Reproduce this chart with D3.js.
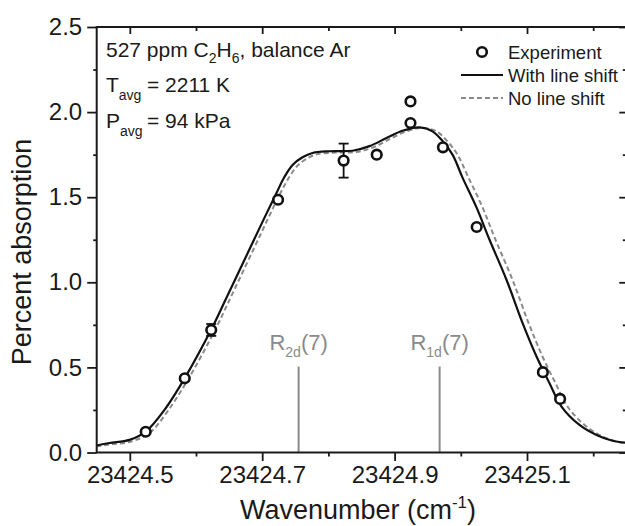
<!DOCTYPE html>
<html>
<head>
<meta charset="utf-8">
<script src="https://cdn.jsdelivr.net/npm/d3@7"></script>
<style>
  body { margin: 0; background: #ffffff; }
  svg { display: block; }
  text { font-family: "Liberation Sans", Arial, Helvetica, sans-serif; fill: #1a1a1a; }
</style>
</head>
<body>
<svg id="chart" width="625" height="526"></svg>
<script>
// Measured absorption (percent) versus wavenumber (cm^-1)
const expWavenumber = [23424.524, 23424.583, 23424.623, 23424.724, 23424.823, 23424.873,
                       23424.924, 23424.924, 23424.973, 23425.024, 23425.124, 23425.150];
const expAbsorption = [0.122, 0.436, 0.720, 1.485, 1.715, 1.750,
                       2.063, 1.936, 1.793, 1.325, 0.472, 0.315];
const expError      = [0, 0, 0.035, 0, 0.100, 0,
                       0, 0, 0, 0, 0, 0];

// Simulated profile including collisional line shift
const shiftWavenumber = [23424.4492, 23424.4693, 23424.4995, 23424.5245, 23424.5524, 23424.5841,
  23424.6234, 23424.6446, 23424.6808, 23424.7035, 23424.7216, 23424.7337, 23424.7462, 23424.7609,
  23424.7760, 23424.8017, 23424.8364, 23424.8621, 23424.8878, 23424.9119, 23424.9376, 23424.9573,
  23424.9724, 23424.9875, 23425.0026, 23425.0237, 23425.0434, 23425.0690, 23425.0932, 23425.1144,
  23425.1340, 23425.1521, 23425.1793, 23425.2050, 23425.2292, 23425.2488];
const shiftAbsorption = [0.041, 0.056, 0.074, 0.124, 0.250, 0.444,
  0.725, 0.897, 1.194, 1.380, 1.525, 1.620, 1.691, 1.735,
  1.760, 1.770, 1.773, 1.800, 1.848, 1.890, 1.910, 1.887,
  1.830, 1.750, 1.615, 1.440, 1.250, 1.015, 0.762, 0.564,
  0.407, 0.270, 0.162, 0.103, 0.069, 0.058];

// Simulated profile without line shift
const noShiftWavenumber = [23424.4492, 23424.4693, 23424.4995, 23424.5298, 23424.5585, 23424.5902,
  23424.6295, 23424.6506, 23424.6869, 23424.7095, 23424.7276, 23424.7412, 23424.7533, 23424.7684,
  23424.7835, 23424.8092, 23424.8409, 23424.8666, 23424.8923, 23424.9165, 23424.9422, 23424.9633,
  23424.9799, 23424.9950, 23425.0116, 23425.0328, 23425.0524, 23425.0781, 23425.1023, 23425.1234,
  23425.1431, 23425.1612, 23425.1869, 23425.2110, 23425.2322, 23425.2488];
const noShiftAbsorption = [0.035, 0.047, 0.062, 0.115, 0.250, 0.444,
  0.725, 0.897, 1.194, 1.380, 1.525, 1.620, 1.685, 1.729,
  1.753, 1.762, 1.765, 1.791, 1.841, 1.885, 1.907, 1.887,
  1.828, 1.750, 1.615, 1.440, 1.250, 1.015, 0.762, 0.564,
  0.407, 0.270, 0.162, 0.100, 0.068, 0.053];

// Line-centre markers
const lineSub = ["2d", "1d"];
const lineCentre = [23424.755, 23424.968];
const lineMarkerTop = 0.505;

// Axis ticks
const xMajorTicks = [23424.5, 23424.7, 23424.9, 23425.1];
const xMinorTicks = [23424.6, 23424.8, 23425.0, 23425.2];
const yMajorTicks = [0.0, 0.5, 1.0, 1.5, 2.0, 2.5];
const yMinorTicks = [0.25, 0.75, 1.25, 1.75, 2.25];

const svg = d3.select("#chart");
const L = 96.7, T = 27, B = 452.5, R = 96.7 + 0.8 * 662;

const x = d3.scaleLinear().domain([23424.45, 23425.25]).range([L, R]);
const y = d3.scaleLinear().domain([0, 2.5]).range([B, T]);

const plot = svg.append("g");
plot.append("clipPath").attr("id", "clip")
  .append("rect").attr("x", L).attr("y", T).attr("width", R - L).attr("height", B - T);

const curveGen = (xs, ys) => d3.line()
  .x((d, i) => x(xs[i])).y((d, i) => y(ys[i]))
  .curve(d3.curveCatmullRom.alpha(0.5))(xs);

// Line-centre markers and labels
lineCentre.forEach((c, i) => {
  plot.append("line")
    .attr("x1", x(c)).attr("x2", x(c))
    .attr("y1", y(0)).attr("y2", y(lineMarkerTop))
    .attr("stroke", "#8a8a8a").attr("stroke-width", 2);
  const t = plot.append("text")
    .attr("x", x(c)).attr("y", y(lineMarkerTop) - 17)
    .attr("text-anchor", "middle")
    .style("font-size", "22px").style("fill", "#8a8a8a");
  t.append("tspan").text("R");
  t.append("tspan").attr("dy", 7).style("font-size", "14px").text(lineSub[i]);
  t.append("tspan").attr("dy", -7).text("(7)");
});

const curves = plot.append("g").attr("clip-path", "url(#clip)");
curves.append("path")
  .attr("d", curveGen(noShiftWavenumber, noShiftAbsorption))
  .attr("fill", "none").attr("stroke", "#8a8a8a")
  .attr("stroke-width", 2).attr("stroke-dasharray", "5,3");
curves.append("path")
  .attr("d", curveGen(shiftWavenumber, shiftAbsorption))
  .attr("fill", "none").attr("stroke", "#111").attr("stroke-width", 2.2);

// Error bars
expWavenumber.forEach((w, i) => {
  const e = expError[i];
  if (!e) return;
  const cx = x(w), y0 = y(expAbsorption[i] - e), y1 = y(expAbsorption[i] + e);
  const g = plot.append("g").attr("stroke", "#111").attr("stroke-width", 1.8);
  g.append("line").attr("x1", cx).attr("x2", cx).attr("y1", y0).attr("y2", y1);
  g.append("line").attr("x1", cx - 5).attr("x2", cx + 5).attr("y1", y0).attr("y2", y0);
  g.append("line").attr("x1", cx - 5).attr("x2", cx + 5).attr("y1", y1).attr("y2", y1);
});

// Experimental points
plot.selectAll("circle.exp").data(expWavenumber).join("circle")
  .attr("class", "exp")
  .attr("cx", d => x(d)).attr("cy", (d, i) => y(expAbsorption[i]))
  .attr("r", 4.8).attr("fill", "#fff").attr("stroke", "#111").attr("stroke-width", 2.6);

// Axes
function styleAxis(g, size) {
  g.select(".domain").remove();
  g.selectAll(".tick line").attr("stroke", "#1a1a1a").attr("stroke-width", 1.8);
  g.selectAll(".tick text").style("font-size", size).attr("fill", "#1a1a1a")
    .style("font-family", "\"Liberation Sans\", Arial, sans-serif");
}
const fmt = d3.format(".1f");
svg.append("g").attr("transform", `translate(0,${B})`)
  .call(d3.axisBottom(x).tickValues(xMajorTicks).tickSize(8.5).tickPadding(5).tickFormat(fmt))
  .call(g => styleAxis(g, "24px"));
svg.append("g").attr("transform", `translate(0,${B})`)
  .call(d3.axisBottom(x).tickValues(xMinorTicks).tickSize(4).tickFormat(""))
  .call(g => styleAxis(g, "24px"));
svg.append("g").attr("transform", `translate(${L},0)`)
  .call(d3.axisLeft(y).tickValues(yMajorTicks).tickSize(9.5).tickPadding(5).tickFormat(fmt))
  .call(g => styleAxis(g, "24px"));
svg.append("g").attr("transform", `translate(${L},0)`)
  .call(d3.axisLeft(y).tickValues(yMinorTicks).tickSize(3.5).tickFormat(""))
  .call(g => styleAxis(g, "24px"));
svg.append("g").attr("transform", `translate(0,${T})`)
  .call(d3.axisTop(x).tickValues(xMajorTicks).tickSize(-7).tickFormat(""))
  .call(g => styleAxis(g, "24px"));
svg.append("g").attr("transform", `translate(0,${T})`)
  .call(d3.axisTop(x).tickValues(xMinorTicks).tickSize(-4).tickFormat(""))
  .call(g => styleAxis(g, "24px"));
svg.append("g").attr("transform", `translate(${R},0)`)
  .call(d3.axisRight(y).tickValues(yMajorTicks).tickSize(-7).tickFormat(""))
  .call(g => styleAxis(g, "24px"));
svg.append("g").attr("transform", `translate(${R},0)`)
  .call(d3.axisRight(y).tickValues(yMinorTicks).tickSize(-3.5).tickFormat(""))
  .call(g => styleAxis(g, "24px"));

svg.append("rect").attr("x", L).attr("y", T).attr("width", R - L).attr("height", B - T)
  .attr("fill", "none").attr("stroke", "#1a1a1a").attr("stroke-width", 2);

// Axis titles
const xt = svg.append("text").attr("x", 358).attr("y", 519)
  .attr("text-anchor", "middle").style("font-size", "27px");
xt.append("tspan").text("Wavenumber (cm");
xt.append("tspan").attr("dy", -11).style("font-size", "17px").text("-1");
xt.append("tspan").attr("dy", 11).text(")");

svg.append("text").attr("transform", "translate(31,252) rotate(-90)")
  .attr("text-anchor", "middle").style("font-size", "27px").text("Percent absorption");

// Conditions annotation
const ann = svg.append("g").style("font-size", "21px");
const a1 = ann.append("text").attr("x", 106).attr("y", 57);
a1.append("tspan").text("527 ppm C");
a1.append("tspan").attr("dy", 6).style("font-size", "14px").text("2");
a1.append("tspan").attr("dy", -6).text("H");
a1.append("tspan").attr("dy", 6).style("font-size", "14px").text("6");
a1.append("tspan").attr("dy", -6).text(", balance Ar");
const a2 = ann.append("text").attr("x", 106).attr("y", 92);
a2.append("tspan").text("T");
a2.append("tspan").attr("dy", 8).style("font-size", "14px").text("avg");
a2.append("tspan").attr("dy", -8).attr("x", 147).text("= 2211 K");
const a3 = ann.append("text").attr("x", 106).attr("y", 128);
a3.append("tspan").text("P");
a3.append("tspan").attr("dy", 8).style("font-size", "14px").text("avg");
a3.append("tspan").attr("dy", -8).attr("x", 147).text("= 94 kPa");

// Legend
const leg = svg.append("g");
leg.append("circle").attr("cx", 482).attr("cy", 52).attr("r", 4.8)
  .attr("fill", "#fff").attr("stroke", "#111").attr("stroke-width", 2.6);
leg.append("line").attr("x1", 461).attr("x2", 503).attr("y1", 75).attr("y2", 75)
  .attr("stroke", "#111").attr("stroke-width", 2.2);
leg.append("line").attr("x1", 461).attr("x2", 503).attr("y1", 98).attr("y2", 98)
  .attr("stroke", "#8a8a8a").attr("stroke-width", 2).attr("stroke-dasharray", "5,3");
[["Experiment", 58.5], ["With line shift", 81.5], ["No line shift", 104.5]].forEach(([t, yy]) => {
  leg.append("text").attr("x", 508).attr("y", yy).style("font-size", "18.5px").text(t);
});
</script>
</body>
</html>
